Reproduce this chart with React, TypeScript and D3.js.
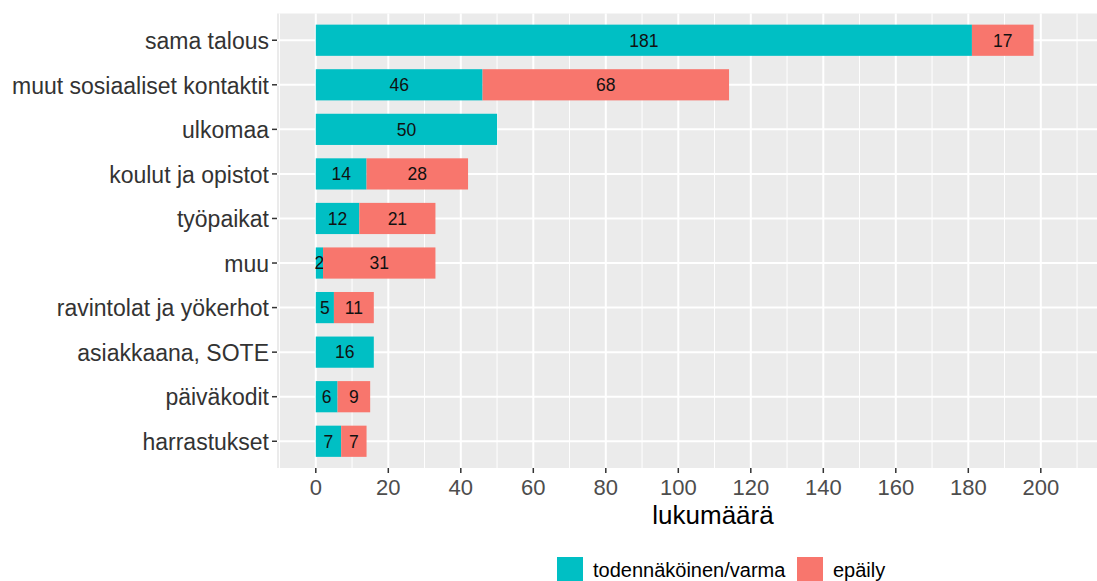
import React from "react";
import * as d3 from "d3";

const categories = [
  "sama talous",
  "muut sosiaaliset kontaktit",
  "ulkomaa",
  "koulut ja opistot",
  "työpaikat",
  "muu",
  "ravintolat ja yökerhot",
  "asiakkaana, SOTE",
  "päiväkodit",
  "harrastukset",
];
const varma = [181, 46, 50, 14, 12, 2, 5, 16, 6, 7];
const epaily = [17, 68, 0, 28, 21, 31, 11, 0, 9, 7];
const xTicks = [0, 20, 40, 60, 80, 100, 120, 140, 160, 180, 200];
const seriesNames = ["todennäköinen/varma", "epäily"];
const colors = ["#00BFC4", "#F8766D"];

export default function App() {
  const W = 1097, H = 581;
  const panelL = 277, panelR = 1097, panelT = 13.5, panelB = 468;
  const x = d3.scaleLinear().domain([0, 200]).range([315.8, 1040.8]);
  const xMin = x.invert(panelL), xMax = x.invert(panelR);
  const y = d3
    .scalePoint<string>()
    .domain(categories)
    .range([panelT, panelB])
    .padding(0.6);
  const step = y.step();
  const barH = step * 0.7;
  const minor = d3.range(Math.ceil(xMin / 10) * 10, xMax, 10).filter((v) => v % 20 !== 0);
  const major = xTicks.concat(d3.range(220, xMax, 20));
  const font = "Arial, 'Liberation Sans', sans-serif";

  return (
    <svg
      width={W}
      height={H}
      style={{ position: "absolute", left: 0, top: 0, background: "#fff" }}
      fontFamily={font}
    >
      <rect x={panelL} y={panelT} width={panelR - panelL} height={panelB - panelT} fill="#EBEBEB" />
      {minor.map((v) => (
        <line key={"mi" + v} x1={x(v)} x2={x(v)} y1={panelT} y2={panelB} stroke="#fff" strokeWidth={1} />
      ))}
      {major.map((v) => (
        <line key={"ma" + v} x1={x(v)} x2={x(v)} y1={panelT} y2={panelB} stroke="#fff" strokeWidth={2} />
      ))}
      {categories.map((c) => (
        <line key={"yg" + c} x1={panelL} x2={panelR} y1={y(c)} y2={y(c)} stroke="#fff" strokeWidth={2} />
      ))}
      {categories.map((c, i) => {
        const yc = y(c)!;
        const segs = [
          { x0: 0, x1: varma[i], v: varma[i], col: colors[0] },
          { x0: varma[i], x1: varma[i] + epaily[i], v: epaily[i], col: colors[1] },
        ];
        return (
          <g key={"b" + c}>
            {segs.map((s, j) =>
              s.v > 0 ? (
                <g key={j}>
                  <rect x={x(s.x0)} y={yc - barH / 2} width={x(s.x1) - x(s.x0)} height={barH} fill={s.col} />
                  <text
                    x={(x(s.x0) + x(s.x1)) / 2}
                    y={yc}
                    dy="0.36em"
                    textAnchor="middle"
                    fontSize={17.5}
                    fill="#111"
                  >
                    {s.v}
                  </text>
                </g>
              ) : null
            )}
          </g>
        );
      })}
      {categories.map((c) => (
        <g key={"yt" + c}>
          <line x1={panelL - 5} x2={panelL} y1={y(c)} y2={y(c)} stroke="#333" strokeWidth={1.5} />
          <text x={panelL - 8} y={y(c)} dy="0.38em" textAnchor="end" fontSize={23} fill="#333">
            {c}
          </text>
        </g>
      ))}
      {xTicks.map((v) => (
        <g key={"xt" + v}>
          <line x1={x(v)} x2={x(v)} y1={panelB} y2={panelB + 5} stroke="#333" strokeWidth={1.5} />
          <text x={x(v)} y={495} textAnchor="middle" fontSize={22} fill="#4D4D4D">
            {v}
          </text>
        </g>
      ))}
      <text x={713} y={524} textAnchor="middle" fontSize={26} fill="#000">
        lukumäärä
      </text>
      <g>
        <rect x={557} y={557} width={26} height={26} fill={colors[0]} />
        <text x={593} y={577} fontSize={20} fill="#000">
          {seriesNames[0]}
        </text>
        <rect x={797} y={557} width={26} height={26} fill={colors[1]} />
        <text x={833} y={577} fontSize={20} fill="#000">
          {seriesNames[1]}
        </text>
      </g>
    </svg>
  );
}
